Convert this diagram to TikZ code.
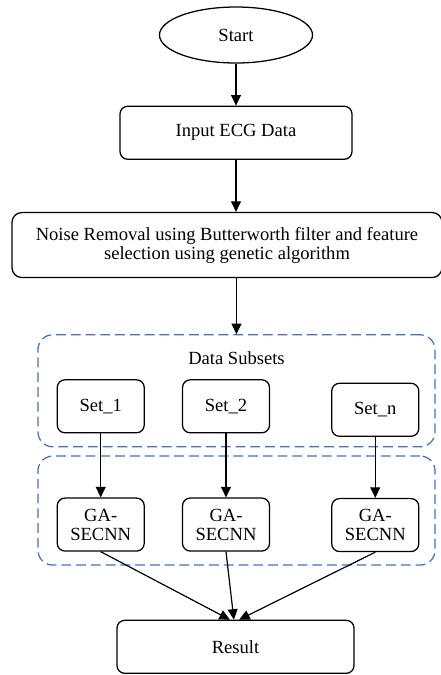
\documentclass[tikz,border=0pt]{standalone}
\usepackage{fontspec}
\setmainfont{Liberation Serif}
\usepackage{xcolor}
\definecolor{groupblue}{RGB}{68,114,196}
\usepackage{tikz}
\usetikzlibrary{shapes.geometric,arrows.meta,positioning}

\begin{document}
\begin{tikzpicture}[
  node distance=1cm,
  termbox/.style={ellipse, draw=black, line width=0.9pt, minimum width=3.825cm,
              minimum height=1.4cm, inner sep=0pt, font=\fontsize{13.2}{13.6}\selectfont},
  procbox/.style={rectangle, rounded corners=5.5pt, draw=black, line width=0.9pt,
              minimum height=1.325cm, align=center, inner sep=2pt,
              font=\fontsize{13.2}{13.6}\selectfont},
  setbox/.style={procbox, minimum width=2.175cm},
  groupbox/.style={rectangle, rounded corners=10.5pt, draw=groupblue, line width=0.9pt,
              dash pattern=on 7pt off 3.5pt, minimum width=9.925cm},
  grouplabel/.style={font=\fontsize{13.2}{13.6}\selectfont, inner sep=0pt},
  arr/.style={draw=black, line width=0.85pt, -{Stealth[length=7.5pt,width=7pt,inset=0pt]}}
]

\useasboundingbox (-5.9,0.875) rectangle (5.125,-16.0);

\node[termbox] (start) {Start};
\node[procbox, minimum width=5.8cm, below=1.05cm of start] (input) {Input ECG Data};
\node[procbox, minimum width=10.75cm, minimum height=1.625cm, rounded corners=7pt,
      below=1.3cm of input, xshift=-0.225cm] (noise)
  {Noise Removal using Butterworth filter and feature\\selection using genetic algorithm};

%% data subsets group
\node[groupbox, minimum height=2.8cm, below=1.4cm of noise, xshift=0.2375cm] (grp1) {};
\node[grouplabel] (subsets) at ([yshift=-0.6cm]grp1.north) {Data Subsets};
\node[setbox, below=1.125cm of grp1.north, xshift=-0.2625cm] (set2) {Set\_2};
\node[setbox, left=0.925cm of set2] (set1) {Set\_1};
\node[setbox, right=1.525cm of set2, yshift=-0.0875cm] (setn) {Set\_n};

%% classifier group
\node[groupbox, minimum height=2.725cm, below=0.2cm of grp1] (grp2) {};
\node[setbox, below=1.6cm of set1] (ga1) {GA-\\SECNN};
\node[setbox, below=1.6cm of set2] (ga2) {GA-\\SECNN};
\node[setbox, below=1.525cm of setn] (ga3) {GA-\\SECNN};

\node[procbox, minimum width=5.925cm, below=1.7cm of ga2, xshift=0.2375cm] (result) {Result};

\draw[arr] (start) -- (input);
\draw[arr] (input.south) -- (input.south |- noise.north);
\draw[arr] (noise.south -| grp1.north) -- (grp1.north);

\draw[arr] (set1) -- (ga1);
\draw[arr] (set2) -- (ga2);
\draw[arr] (setn) -- (ga3);

%% merge into result
\draw[arr] (ga1.south) -- ([xshift=-0.14cm]result.north);
\draw[arr] (ga2.south) -- ([xshift=-0.04cm]result.north);
\draw[arr] (ga3.south) -- ([xshift=0.09cm]result.north);

\end{tikzpicture}
\end{document}
